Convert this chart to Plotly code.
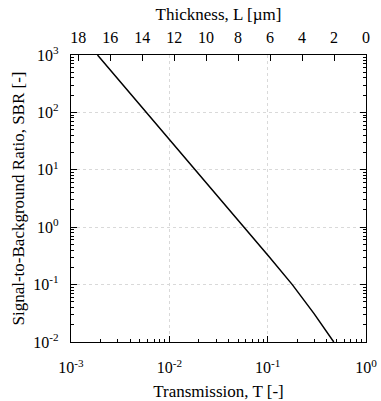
import plotly.graph_objects as go

# values
transmission = [0.00186, 0.0058, 0.0183, 0.0575, 0.102, 0.178, 0.295, 0.470]
sbr = [1e3, 1e2, 1e1, 1e0, 3.16e-1, 1e-1, 3.16e-2, 1e-2]

x_tickvals = [1e-3, 1e-2, 1e-1, 1e0]
x_ticktext = ["10<sup>-3</sup>", "10<sup>-2</sup>", "10<sup>-1</sup>", "10<sup>0</sup>"]
y_tickvals = [1e-2, 1e-1, 1e0, 1e1, 1e2, 1e3]
y_ticktext = ["10<sup>-2</sup>", "10<sup>-1</sup>", "10<sup>0</sup>",
              "10<sup>1</sup>", "10<sup>2</sup>", "10<sup>3</sup>"]
thickness_ticks = [18, 16, 14, 12, 10, 8, 6, 4, 2, 0]
thickness_range = [18.45, 0]

# minor log ticks 2..9 in each decade
x_minor = [m * 10.0 ** e for e in range(-3, 0) for m in range(2, 10)]
y_minor = [m * 10.0 ** e for e in range(-2, 3) for m in range(2, 10)]

serif = "Liberation Serif, Times New Roman, serif"
tick_font = dict(family=serif, size=16, color="black")
title_font = dict(family=serif, size=17, color="black")

fig = go.Figure()
fig.add_trace(go.Scatter(x=transmission, y=sbr, mode="lines",
                         line=dict(color="black", width=1.5), showlegend=False))
# dummy trace so the top thickness axis gets drawn
fig.add_trace(go.Scatter(x=thickness_range, y=[1, 1], xaxis="x2",
                         mode="lines", line=dict(width=0), showlegend=False,
                         hoverinfo="skip"))

fig.update_layout(
    width=381, height=401,
    margin=dict(l=71, r=15, t=55, b=59),
    paper_bgcolor="white", plot_bgcolor="white",
    font=tick_font,
    xaxis=dict(
        type="log", range=[-3, 0], automargin=False,
        tickmode="array", tickvals=x_tickvals, ticktext=x_ticktext,
        ticks="inside", ticklen=6, tickcolor="black", tickfont=tick_font,
        ticklabelstandoff=11,
        showline=True, linecolor="black", linewidth=1.2, mirror=True,
        showgrid=True, gridcolor="#d9d9d9", griddash="dot", gridwidth=1,
        minor=dict(tickmode="array", tickvals=x_minor, ticks="inside",
                   ticklen=3, tickcolor="black", showgrid=False),
        title=dict(text="Transmission, T [-]", font=title_font, standoff=10),
        zeroline=False,
    ),
    xaxis2=dict(
        overlaying="x", side="top", anchor="y", automargin=False,
        range=thickness_range, tickmode="array", tickvals=thickness_ticks,
        ticks="inside", ticklen=6, tickcolor="black", tickfont=tick_font,
        ticklabelstandoff=8,
        showgrid=False, zeroline=False, showline=False,
        title=dict(text="Thickness, L [µm]", font=title_font, standoff=3),
    ),
    yaxis=dict(
        type="log", range=[-2, 3], automargin=False,
        tickmode="array", tickvals=y_tickvals, ticktext=y_ticktext,
        ticks="inside", ticklen=6, tickcolor="black", tickfont=tick_font,
        ticklabelstandoff=8,
        showline=True, linecolor="black", linewidth=1.2, mirror="ticks",
        showgrid=True, gridcolor="#d9d9d9", griddash="dot", gridwidth=1,
        minor=dict(tickmode="array", tickvals=y_minor, ticks="inside",
                   ticklen=3, tickcolor="black", showgrid=False),
        title=dict(text="Signal-to-Background Ratio, SBR [-]", font=title_font,
                   standoff=4),
        zeroline=False,
    ),
)

# drop the default 8px body margin so the figure sits at the page corner
fig.write_html("out.html", config={"displayModeBar": False},
               post_script="document.body.style.margin='0px';")
